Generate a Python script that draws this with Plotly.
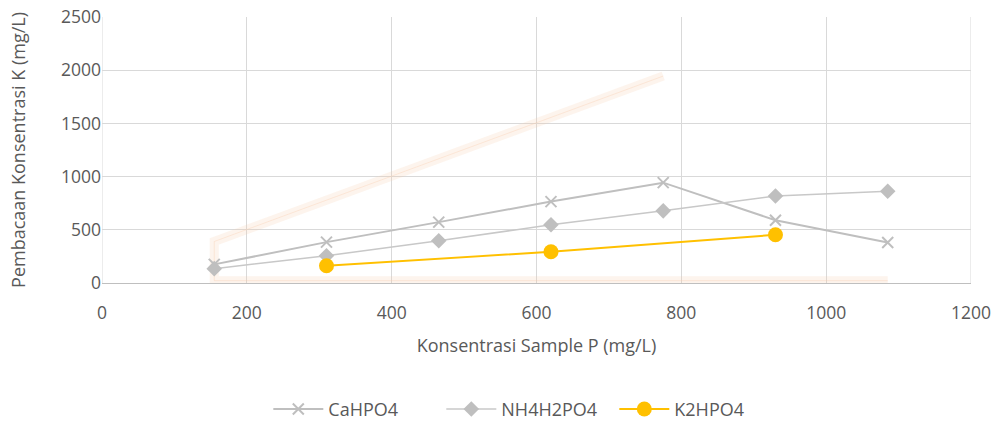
import plotly.graph_objects as go

x_all = [155, 310, 465, 620, 775, 930, 1085]
ca_hpo4 = [175, 384, 572, 765, 943, 590, 381]
nh4h2po4 = [135, 256, 397, 547, 678, 818, 862]
x_k = [310, 620, 930]
k2hpo4 = [162, 293, 453]

# faint highlight band visible in the original picture
band_x = [1085, 155, 155, 775]
band_y = [22, 22, 390, 1945]

x_ticks = [0, 200, 400, 600, 800, 1000, 1200]
y_ticks = [0, 500, 1000, 1500, 2000, 2500]

FONT = "Open Sans"
TXT = "#595959"

fig = go.Figure()
fig.add_trace(go.Scatter(x=band_x, y=band_y, mode="lines", showlegend=False,
                         hoverinfo="skip",
                         line=dict(color="rgba(248,203,173,0.22)", width=9)))
fig.add_trace(go.Scatter(x=band_x, y=band_y, mode="lines", showlegend=False,
                         hoverinfo="skip",
                         line=dict(color="rgba(248,203,173,0.35)", width=1)))
fig.add_trace(go.Scatter(x=x_all, y=ca_hpo4, mode="lines+markers", name="CaHPO4",
                         line=dict(color="#BFBFBF", width=2),
                         marker=dict(symbol="x-thin", size=11,
                                     line=dict(color="#BFBFBF", width=2))))
fig.add_trace(go.Scatter(x=x_all, y=nh4h2po4, mode="lines+markers", name="NH4H2PO4",
                         line=dict(color="#C8C8C8", width=1.5),
                         marker=dict(symbol="diamond", size=12, color="#BFBFBF")))
fig.add_trace(go.Scatter(x=x_k, y=k2hpo4, mode="lines+markers", name="K2HPO4",
                         line=dict(color="#FFC000", width=2),
                         marker=dict(symbol="circle", size=15, color="#FFC000")))

fig.update_layout(
    width=997, height=426,
    margin=dict(l=102, r=26, t=17, b=143, autoexpand=False),
    paper_bgcolor="white", plot_bgcolor="white",
    font=dict(family=FONT, size=17.5, color=TXT),
    showlegend=True,
    legend=dict(orientation="h", x=0.49, xanchor="center", y=-0.475, yanchor="middle",
                font=dict(family=FONT, size=18, color=TXT), itemwidth=50,
                entrywidth=108, entrywidthmode="pixels",
                traceorder="normal"),
    xaxis=dict(range=[0, 1200], tickvals=x_ticks, showgrid=True, gridcolor="#D9D9D9",
               gridwidth=1, zeroline=False, showline=True, linecolor="#BFBFBF",
               linewidth=1, ticks="", tickfont=dict(size=17.5, color=TXT),
               ticklabelstandoff=14, automargin=False,
               title=dict(text="Konsentrasi Sample P (mg/L)", standoff=16,
                          font=dict(size=18, color=TXT))),
    yaxis=dict(range=[0, 2500], tickvals=y_ticks, showgrid=True, gridcolor="#D9D9D9",
               gridwidth=1, zeroline=False, showline=False, ticks="",
               tickfont=dict(size=17.5, color=TXT), automargin=False,
               title=dict(text="Pembacaan Konsentrasi K (mg/L)", standoff=30,
                          font=dict(size=18, color=TXT))),
)
# right and left border gridlines
fig.add_shape(type="line", xref="x", yref="y", x0=1200, x1=1200, y0=0, y1=2500,
              line=dict(color="#D9D9D9", width=1), layer="below")
fig.add_shape(type="line", xref="x", yref="y", x0=0, x1=0, y0=0, y1=2500,
              line=dict(color="#D9D9D9", width=1), layer="below")

fig.write_html("out.html")
